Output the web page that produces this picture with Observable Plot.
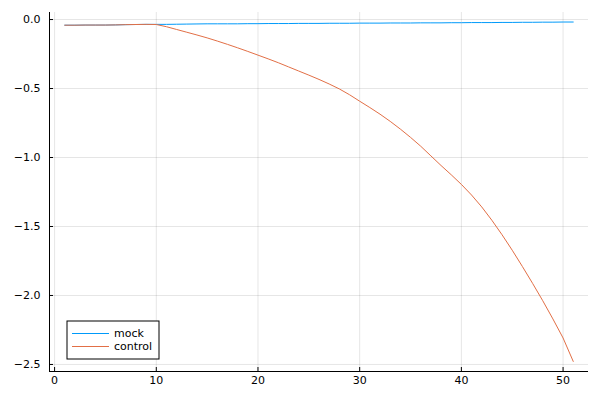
<!DOCTYPE html>
<html>
<head>
<meta charset="utf-8">
<script src="https://cdn.jsdelivr.net/npm/d3@7"></script>
<script src="https://cdn.jsdelivr.net/npm/@observablehq/plot@0.6"></script>
<style>
  body { margin: 0; background: #fff; }
  #chart { position: relative; width: 600px; height: 400px; }
</style>
</head>
<body>
<div id="chart"></div>
<script>
const steps = d3.range(1, 52);
const mock = [-0.041,-0.041,-0.040,-0.040,-0.040,-0.039,-0.037,-0.036,-0.035,-0.035,
  -0.035,-0.034,-0.033,-0.032,-0.031,-0.031,-0.031,-0.031,-0.030,-0.030,
  -0.029,-0.029,-0.029,-0.028,-0.028,-0.028,-0.027,-0.027,-0.027,-0.026,
  -0.026,-0.026,-0.025,-0.025,-0.025,-0.024,-0.024,-0.024,-0.023,-0.023,
  -0.022,-0.022,-0.022,-0.021,-0.021,-0.020,-0.020,-0.019,-0.019,-0.018,-0.018];
const control = [-0.041,-0.041,-0.040,-0.040,-0.040,-0.039,-0.037,-0.036,-0.035,-0.036,
  -0.052,-0.072,-0.092,-0.112,-0.133,-0.156,-0.180,-0.205,-0.231,-0.258,
  -0.285,-0.313,-0.343,-0.373,-0.403,-0.434,-0.467,-0.503,-0.545,-0.592,
  -0.638,-0.686,-0.738,-0.794,-0.854,-0.918,-0.988,-1.058,-1.125,-1.195,
  -1.272,-1.358,-1.455,-1.560,-1.672,-1.790,-1.912,-2.038,-2.170,-2.308,-2.478];
const seriesNames = ["mock", "control"];
const seriesColors = ["#009AFA", "#E26F46"];
const xTicks = [0, 10, 20, 30, 40, 50];
const yTicks = [0, -0.5, -1.0, -1.5, -2.0, -2.5];
const xDomain = [-0.5, 52.5];
const yDomain = [-2.551, 0.051];

const rows = [];
steps.forEach((s, i) => rows.push({step: s, value: mock[i], series: "mock"}));
steps.forEach((s, i) => rows.push({step: s, value: control[i], series: "control"}));

const font = {fontSize: 11, fontFamily: "DejaVu Sans, sans-serif"};

const plot = Plot.plot({
  width: 600,
  height: 400,
  marginLeft: 49,
  marginRight: 12,
  marginTop: 12,
  marginBottom: 29,
  style: {fontFamily: "DejaVu Sans, sans-serif", fontSize: "11px", color: "#000", background: "#fff"},
  x: {domain: xDomain},
  y: {domain: yDomain},
  color: {domain: seriesNames, range: seriesColors},
  marks: [
    Plot.gridX(xTicks, {stroke: "#000", strokeOpacity: 0.1}),
    Plot.gridY(yTicks, {stroke: "#000", strokeOpacity: 0.1}),
    Plot.axisX({ticks: xTicks, tickSize: 0, tickPadding: 5, tickFormat: d3.format("d"), label: null, ...font}),
    Plot.axisX({ticks: xTicks, tickSize: 4, dy: -4, text: null, label: null, stroke: "#000"}),
    Plot.axisY({ticks: yTicks, tickSize: 0, tickPadding: 9, tickFormat: d3.format(".1f"), label: null, ...font}),
    Plot.axisY({ticks: yTicks, tickSize: 4, dx: 4, text: null, label: null, stroke: "#000"}),
    Plot.ruleX([xDomain[0]], {stroke: "#000"}),
    Plot.ruleY([yDomain[0]], {stroke: "#000"}),
    Plot.lineY(rows, {x: "step", y: "value", z: "series", stroke: "series", strokeWidth: 1})
  ]
});
document.getElementById("chart").appendChild(plot);

// legend (Plots.jl style box, bottom-left)
const svg = d3.select(plot);
const lg = svg.append("g").attr("transform", "translate(67,321)")
  .attr("font-family", "DejaVu Sans, sans-serif").attr("font-size", 11).attr("text-anchor", "start");
lg.append("rect").attr("x", 0).attr("y", 0).attr("width", 92).attr("height", 38)
  .attr("fill", "#fff").attr("stroke", "#000").attr("stroke-width", 1);
seriesNames.forEach((name, i) => {
  const yy = 12.5 + i * 13;
  lg.append("line").attr("x1", 5).attr("x2", 42).attr("y1", yy).attr("y2", yy)
    .attr("stroke", seriesColors[i]).attr("stroke-width", 1);
  lg.append("text").attr("x", 47).attr("y", yy).attr("dy", "0.35em").attr("fill", "#000").text(name);
});
</script>
</body>
</html>
